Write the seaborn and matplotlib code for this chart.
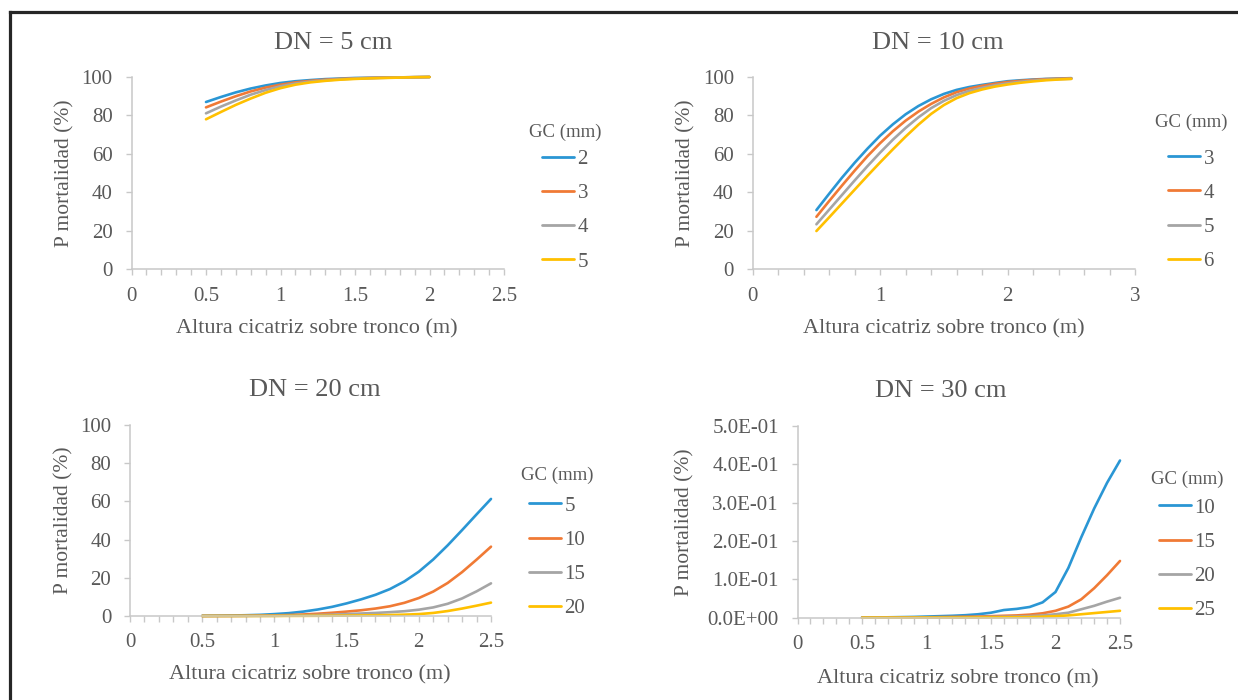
import numpy as np
import pandas as pd
import matplotlib
matplotlib.use("Agg")
import matplotlib.pyplot as plt
from matplotlib.lines import Line2D
from matplotlib.ticker import MultipleLocator, FuncFormatter
import seaborn as sns

# ---------------------------------------------------------------------------
# Data: probability of mortality (%) vs. scar height on the trunk (m),
# one panel per normal diameter (DN), one curve per bark thickness (GC, mm)
# ---------------------------------------------------------------------------
x_dn5 = [0.5, 0.6, 0.7, 0.8, 0.9, 1.0, 1.1, 1.2, 1.3, 1.4, 1.5, 1.6, 1.7, 1.8, 1.9, 2.0]
gc_dn5 = ["2", "3", "4", "5"]
dn5_gc2 = [87.0, 89.6, 92.0, 94.0, 95.6, 96.9, 97.8, 98.4, 98.9, 99.2, 99.5, 99.6, 99.7, 99.8, 99.9, 100.0]
dn5_gc3 = [84.2, 87.2, 90.0, 92.5, 94.5, 96.0, 97.2, 98.0, 98.6, 99.0, 99.3, 99.5, 99.7, 99.8, 99.9, 100.0]
dn5_gc4 = [81.1, 84.6, 87.8, 90.8, 93.2, 95.2, 96.6, 97.6, 98.3, 98.8, 99.2, 99.4, 99.6, 99.8, 99.9, 100.0]
dn5_gc5 = [78.0, 81.8, 85.5, 88.8, 91.8, 94.2, 96.0, 97.2, 98.0, 98.6, 99.0, 99.3, 99.5, 99.7, 99.9, 100.0]

x_dn10 = [0.5, 0.6, 0.7, 0.8, 0.9, 1.0, 1.1, 1.2, 1.3, 1.4, 1.5, 1.6, 1.7, 1.8, 1.9, 2.0,
          2.1, 2.2, 2.3, 2.4, 2.5]
gc_dn10 = ["3", "4", "5", "6"]
dn10_gc3 = [30.8, 39.3, 47.6, 55.4, 62.7, 69.5, 75.4, 80.6, 84.9, 88.4, 91.2, 93.3, 94.8, 95.9, 96.9, 97.8,
            98.3, 98.7, 99.0, 99.2, 99.4]
dn10_gc4 = [27.3, 35.5, 43.5, 51.3, 58.8, 65.6, 71.8, 77.3, 82.0, 86.0, 89.4, 92.1, 94.0, 95.4, 96.5, 97.4,
            98.0, 98.5, 98.9, 99.1, 99.3]
dn10_gc5 = [23.4, 31.0, 38.6, 46.2, 53.6, 60.7, 67.4, 73.5, 79.0, 83.8, 87.6, 90.6, 92.8, 94.4, 95.7, 96.7,
            97.5, 98.1, 98.6, 98.9, 99.1]
dn10_gc6 = [19.9, 27.0, 34.2, 41.4, 48.6, 55.6, 62.4, 69.0, 75.2, 80.8, 85.4, 89.0, 91.6, 93.5, 95.0, 96.1,
            97.0, 97.7, 98.3, 98.7, 99.0]

x_dn20 = [0.5, 0.6, 0.7, 0.8, 0.9, 1.0, 1.1, 1.2, 1.3, 1.4, 1.5, 1.6, 1.7, 1.8, 1.9, 2.0,
          2.1, 2.2, 2.3, 2.4, 2.5]
gc_dn20 = ["5", "10", "15", "20"]
dn20_gc5 = [0.1, 0.15, 0.25, 0.4, 0.6, 1.0, 1.5, 2.3, 3.4, 4.8, 6.6, 8.7, 11.1, 14.1, 18.1, 23.2,
            29.6, 37.0, 45.0, 53.2, 61.3]
dn20_gc10 = [0.02, 0.04, 0.07, 0.12, 0.2, 0.3, 0.5, 0.8, 1.2, 1.7, 2.3, 3.0, 3.9, 5.1, 6.9, 9.4,
             12.8, 17.3, 23.0, 29.5, 36.3]
dn20_gc15 = [0.01, 0.02, 0.03, 0.05, 0.07, 0.1, 0.2, 0.3, 0.5, 0.7, 1.0, 1.3, 1.6, 2.0, 2.5, 3.3,
             4.5, 6.4, 9.2, 12.9, 17.1]
dn20_gc20 = [0.0, 0.01, 0.01, 0.02, 0.03, 0.04, 0.06, 0.08, 0.11, 0.15, 0.2, 0.3, 0.4, 0.5, 0.7, 1.0,
             1.6, 2.6, 3.9, 5.4, 7.0]

x_dn30 = [0.5, 0.6, 0.7, 0.8, 0.9, 1.0, 1.1, 1.2, 1.3, 1.4, 1.5, 1.6, 1.7, 1.8, 1.9, 2.0,
          2.1, 2.2, 2.3, 2.4, 2.5]
gc_dn30 = ["10", "15", "20", "25"]
dn30_gc10 = [0.0005, 0.0007, 0.001, 0.0015, 0.002, 0.003, 0.004, 0.005, 0.0065, 0.009, 0.013, 0.020,
             0.023, 0.028, 0.040, 0.067, 0.130, 0.210, 0.285, 0.352, 0.41]
dn30_gc15 = [0.0002, 0.0003, 0.0004, 0.0005, 0.0007, 0.001, 0.0015, 0.002, 0.0025, 0.003, 0.004, 0.005,
             0.006, 0.008, 0.0115, 0.018, 0.029, 0.048, 0.077, 0.111, 0.148]
dn30_gc20 = [0.0001, 0.0001, 0.0002, 0.0002, 0.0003, 0.0004, 0.0005, 0.0007, 0.001, 0.0014, 0.002, 0.0025,
             0.003, 0.004, 0.006, 0.009, 0.013, 0.022, 0.031, 0.042, 0.052]
dn30_gc25 = [0.0, 0.0001, 0.0001, 0.0001, 0.0001, 0.0002, 0.0002, 0.0003, 0.0004, 0.0005, 0.0007, 0.0009,
             0.0012, 0.0016, 0.0025, 0.004, 0.006, 0.009, 0.012, 0.015, 0.018]

titles = ["DN = 5 cm", "DN = 10 cm", "DN = 20 cm", "DN = 30 cm"]
x_label = "Altura cicatriz sobre tronco (m)"
y_label = "P mortalidad (%)"
legend_title = "GC (mm)"

# ---------------------------------------------------------------------------
# Style
# ---------------------------------------------------------------------------
W, H = 1238, 700
TEXT = "#595959"
AXIS = "#C8C8C8"
palette = ["#2A96D4", "#F07A35", "#A5A5A5", "#FFC000"]

sns.set_theme(style="white")
plt.rcParams["font.family"] = ["Liberation Serif", "DejaVu Serif"]
plt.rcParams.update({
    "text.color": TEXT,
    "axes.labelcolor": TEXT,
    "xtick.color": AXIS,
    "ytick.color": AXIS,
    "xtick.labelcolor": TEXT,
    "ytick.labelcolor": TEXT,
    "axes.edgecolor": AXIS,
})

fig = plt.figure(figsize=(W / 100, H / 100), dpi=100)
fig.patch.set_facecolor("white")


def fx(px):
    return px / W


def fy(py):
    return 1 - py / H


# layout of each panel, in pixels of the 1238x700 canvas
panels = [
    dict(x=x_dn5, series=[dn5_gc2, dn5_gc3, dn5_gc4, dn5_gc5], gc=gc_dn5,
         box=(131.5, 77, 504, 269.3), xmax=2.5, xmaj=0.5, xmin=0.1, ymax=100, ymaj=20, sci=False,
         title=(333, 49), xlab=(317, 333), ylab=(69, 173), leg=(565, 197.5), leg_sep=6.2),
    dict(x=x_dn10, series=[dn10_gc3, dn10_gc4, dn10_gc5, dn10_gc6], gc=gc_dn10,
         box=(752.7, 77, 1135, 269.3), xmax=3, xmaj=1, xmin=0.2, ymax=100, ymaj=20, sci=False,
         title=(938, 49), xlab=(944, 333), ylab=(690, 173), leg=(1191, 192.5), leg_sep=12.7),
    dict(x=x_dn20, series=[dn20_gc5, dn20_gc10, dn20_gc15, dn20_gc20], gc=gc_dn20,
         box=(130, 425, 491, 616), xmax=2.5, xmaj=0.5, xmin=0.1, ymax=100, ymaj=20, sci=False,
         title=(315, 396), xlab=(310, 679), ylab=(68, 520), leg=(557, 542.6), leg_sep=8.4),
    dict(x=x_dn30, series=[dn30_gc10, dn30_gc15, dn30_gc20, dn30_gc25], gc=gc_dn30,
         box=(797.5, 426, 1120, 617.7), xmax=2.5, xmaj=0.5, xmin=0.1, ymax=0.5, ymaj=0.1, sci=True,
         title=(941, 397), xlab=(958, 683), ylab=(689, 522), leg=(1187, 545.4), leg_sep=7.3),
]

for p, title in zip(panels, titles):
    x0, y0, x1, y1 = p["box"]
    ax = fig.add_axes([fx(x0), fy(y1), (x1 - x0) / W, (y1 - y0) / H])

    n = len(p["x"])
    df = pd.DataFrame({
        "altura": np.tile(p["x"], len(p["gc"])),
        "mortalidad": np.concatenate(p["series"]),
        legend_title: np.repeat(p["gc"], n),
    })
    sns.lineplot(data=df, x="altura", y="mortalidad", hue=legend_title, hue_order=p["gc"],
                 palette=palette, linewidth=1.9, errorbar=None, sort=False, clip_on=False, ax=ax)

    ax.set_xlim(0, p["xmax"])
    ax.set_ylim(0, p["ymax"])
    ax.xaxis.set_major_locator(MultipleLocator(p["xmaj"]))
    ax.xaxis.set_minor_locator(MultipleLocator(p["xmin"]))
    ax.yaxis.set_major_locator(MultipleLocator(p["ymaj"]))
    ax.xaxis.set_major_formatter(FuncFormatter(lambda v, _: f"{v:g}"))
    if p["sci"]:
        ax.yaxis.set_major_formatter(FuncFormatter(lambda v, _: f"{v:.1E}"))
    else:
        ax.yaxis.set_major_formatter(FuncFormatter(lambda v, _: f"{v:g}"))

    for side in ("top", "right"):
        ax.spines[side].set_visible(False)
    for side in ("left", "bottom"):
        ax.spines[side].set_linewidth(1.1)
        ax.spines[side].set_color(AXIS)
    ax.tick_params(axis="both", which="both", direction="out", length=4.5, width=1.0,
                   color=AXIS, labelsize=15, labelcolor=TEXT)
    ax.tick_params(axis="x", which="both", bottom=True, pad=8)
    ax.tick_params(axis="y", which="major", left=True, pad=9)

    ax.set_xlabel(x_label, fontsize=16, color=TEXT, va="baseline")
    ax.xaxis.set_label_coords(fx(p["xlab"][0]), fy(p["xlab"][1]), transform=fig.transFigure)
    ax.set_ylabel(y_label, fontsize=15.5, color=TEXT, va="baseline")
    ax.yaxis.set_label_coords(fx(p["ylab"][0]), fy(p["ylab"][1]), transform=fig.transFigure)

    fig.text(fx(p["title"][0]), fy(p["title"][1]), title, fontsize=19, color=TEXT,
             ha="center", va="baseline")

    sns.move_legend(ax, "center", bbox_to_anchor=(fx(p["leg"][0]), fy(p["leg"][1])),
                    bbox_transform=fig.transFigure, frameon=False, title=legend_title,
                    fontsize=15, title_fontsize=13.5, handlelength=1.55, handletextpad=0.15,
                    labelspacing=0.7, borderpad=0, labelcolor=TEXT)
    leg = ax.get_legend()
    leg.get_title().set_color(TEXT)
    # gap between the legend title and the first entry
    leg._legend_box.sep = p["leg_sep"]
    for h in leg.legend_handles:
        h.set_linewidth(2.0)

# frame around the figure (top and left edges)
fig.add_artist(Line2D([fx(9.5), 1.0], [fy(12), fy(12)], transform=fig.transFigure,
                      color="#262626", lw=2.3, solid_capstyle="projecting"))
fig.add_artist(Line2D([fx(9.5), fx(9.5)], [0.0, fy(12)], transform=fig.transFigure,
                      color="#262626", lw=2.3, solid_capstyle="projecting"))

fig.savefig("out.png", dpi=100, facecolor="white")
